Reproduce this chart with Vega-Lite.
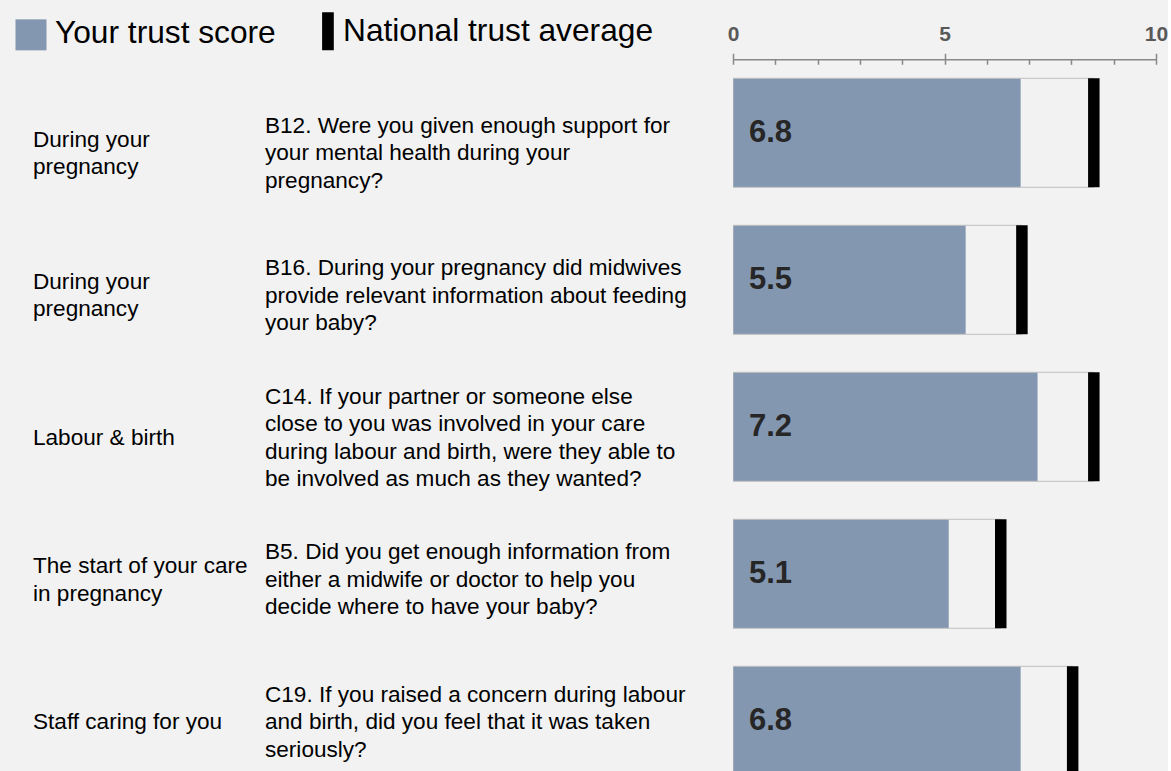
{
  "$schema": "https://vega.github.io/schema/vega-lite/v6.json",
  "background": "#f2f2f2",
  "padding": {"left": 12, "top": 15.3, "right": 0, "bottom": 0},
  "bounds": "flush",
  "spacing": 0,
  "config": {"view": {"stroke": null}, "font": "Liberation Sans"},
  "data": {
    "values": [
      {"id": "B12", "category": ["During your", "pregnancy"], "question": ["B12. Were you given enough support for", "your mental health during your", "pregnancy?"], "score": 6.8, "national": 8.53},
      {"id": "B16", "category": ["During your", "pregnancy"], "question": ["B16. During your pregnancy did midwives", "provide relevant information about feeding", "your baby?"], "score": 5.5, "national": 6.83},
      {"id": "C14", "category": ["Labour & birth"], "question": ["C14. If your partner or someone else", "close to you was involved in your care", "during labour and birth, were they able to", "be involved as much as they wanted?"], "score": 7.2, "national": 8.53},
      {"id": "B5", "category": ["The start of your care", "in pregnancy"], "question": ["B5. Did you get enough information from", "either a midwife or doctor to help you", "decide where to have your baby?"], "score": 5.1, "national": 6.33},
      {"id": "C19", "category": ["Staff caring for you"], "question": ["C19. If you raised a concern during labour", "and birth, did you feel that it was taken", "seriously?"], "score": 6.8, "national": 8.03}
    ]
  },
  "resolve": {"scale": {"x": "independent", "y": "independent"}},
  "hconcat": [
    {
      "width": 232,
      "height": 712,
      "mark": {"type": "text", "align": "left", "baseline": "middle", "fontSize": 22.6, "lineHeight": 27.5, "color": "#000000",
               "dy": {"expr": "-(length(datum.category) - 1) * 13.75"}},
      "encoding": {
        "x": {"datum": 0, "type": "quantitative", "scale": {"domain": [0, 1]}, "axis": null},
        "y": {"field": "id", "type": "nominal", "sort": null, "axis": null, "scale": {"type": "point", "range": [23, 734], "padding": 0.5}},
        "text": {"field": "category"}
      }
    },
    {
      "width": 468,
      "height": 712,
      "mark": {"type": "text", "align": "left", "baseline": "middle", "fontSize": 22.6, "lineHeight": 27.5, "color": "#000000",
               "dy": {"expr": "-(length(datum.question) - 1) * 13.75"}},
      "encoding": {
        "x": {"datum": 0, "type": "quantitative", "scale": {"domain": [0, 1]}, "axis": null},
        "y": {"field": "id", "type": "nominal", "sort": null, "axis": null, "scale": {"type": "point", "range": [23, 734], "padding": 0.5}},
        "text": {"field": "question"}
      }
    },
    {
      "width": 423,
      "height": 712,
      "encoding": {
        "y": {"field": "id", "type": "nominal", "sort": null, "axis": null, "scale": {"range": [0, 735], "paddingInner": 0.2585, "paddingOuter": 0.1293}}
      },
      "layer": [
        {
          "mark": {"type": "bar", "clip": true},
          "encoding": {
            "x": {
              "field": "score", "type": "quantitative",
              "scale": {"domain": [0, 10], "nice": false},
              "axis": {
                "orient": "top", "values": [0, 1, 2, 3, 4, 5, 6, 7, 8, 9, 10],
                "labelExpr": "datum.value % 5 === 0 ? datum.label : ''",
                "tickSize": -5, "tickColor": "#888888", "tickWidth": 1.5,
                "domainColor": "#888888", "domainWidth": 1.5,
                "labelFontSize": 21, "labelFontWeight": "bold", "labelColor": "#595959", "labelFont": "Liberation Sans",
                "labelPadding": 20, "labelFlush": false, "labelOverlap": false, "labelBound": false,
                "grid": false, "title": null
              }
            },
            "color": {
              "datum": "Your trust score", "type": "nominal",
              "scale": {"domain": ["Your trust score", "National trust average"], "range": ["#8497B0", "#000000"]},
              "legend": {
                "orient": "none", "legendX": -21, "legendY": -43.7, "direction": "horizontal", "title": null,
                "labelFontSize": 31.7, "labelColor": "#000000", "labelFont": "Liberation Sans", "labelLimit": 500,
                "symbolSize": 961, "symbolType": "square", "symbolStrokeWidth": 0, "symbolOpacity": 1,
                "labelOffset": 5, "columnPadding": 24, "padding": 0,
                "encode": {
                  "symbols": {
                    "update": {
                      "shape": {"signal": "datum.value === 'Your trust score' ? 'square' : 'M0.163,-1.195H0.779V0.805H0.163Z'"},
                      "size": {"signal": "datum.value === 'Your trust score' ? 961 : 1444"}
                    }
                  },
                  "labels": {
                    "update": {
                      "dy": {"signal": "datum.value === 'Your trust score' ? -2 : -4"}
                    }
                  }
                }
              }
            }
          }
        },
        {
          "mark": {"type": "bar", "clip": true, "fill": "#f2f2f2", "fillOpacity": 0, "stroke": "#bfbfbf", "strokeWidth": 1},
          "encoding": {
            "x": {"field": "national", "type": "quantitative", "axis": null}
          }
        },
        {
          "mark": {"type": "tick", "clip": true, "thickness": 11.5, "size": 109, "opacity": 1},
          "encoding": {
            "x": {
              "field": "national", "type": "quantitative",
              "axis": {"orient": "top", "values": [0, 5, 10], "tickSize": 6, "tickColor": "#888888", "tickWidth": 1.5, "labels": false, "domain": false, "grid": false, "title": null}
            },
            "color": {"datum": "National trust average", "type": "nominal"}
          }
        },
        {
          "mark": {"type": "text", "align": "left", "baseline": "middle", "dx": 16, "fontSize": 31, "fontWeight": "bold", "color": "#262626"},
          "encoding": {
            "x": {"datum": 0, "type": "quantitative", "axis": null},
            "text": {"field": "score", "type": "quantitative", "format": ".1f"}
          }
        }
      ],
      "resolve": {"axis": {"x": "independent"}}
    }
  ]
}
